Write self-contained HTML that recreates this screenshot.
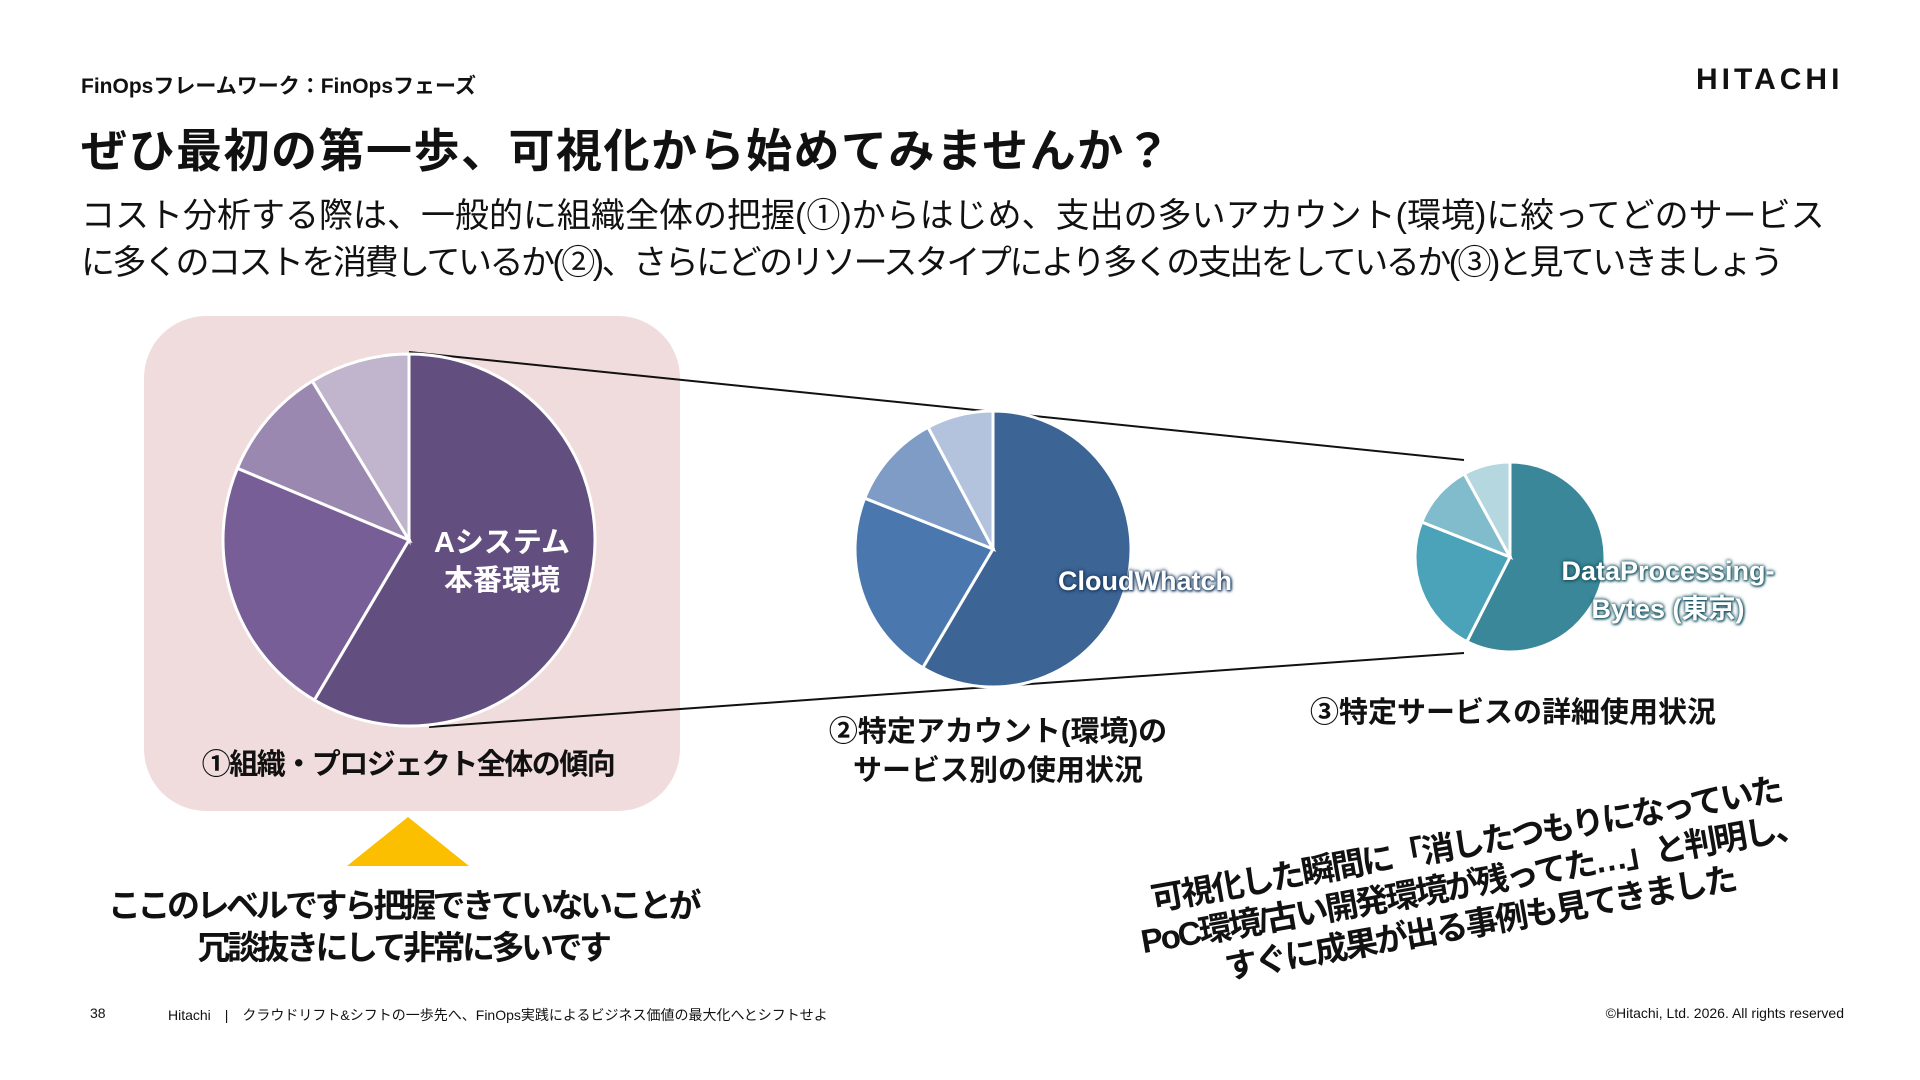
<!DOCTYPE html>
<html><head><meta charset="utf-8">
<style>
*{margin:0;padding:0;box-sizing:border-box}
body{width:1920px;height:1080px;background:#fff;position:relative;overflow:hidden;font-family:"Liberation Sans","Noto Sans CJK JP",sans-serif;color:#111}
.a{position:absolute;white-space:nowrap}
.c{transform:translateX(-50%);text-align:center}
.b{font-weight:bold}
</style></head><body>
<div class="a" style="left:81px;top:70px;font-size:21px;font-weight:bold">FinOpsフレームワーク：FinOpsフェーズ</div>
<div class="a" style="left:1696px;top:63px;font-size:30px;font-weight:900;letter-spacing:4px">HITACHI</div>
<div class="a b" style="left:81px;top:115px;font-size:46px;letter-spacing:1.5px">ぜひ最初の第一歩、可視化から始めてみませんか？</div>
<div class="a" style="left:81px;top:193px;font-size:34px;line-height:47px">コスト分析する際は、一般的に組織全体の把握(①)からはじめ、支出の多いアカウント(環境)に絞ってどのサービス</div>
<div class="a" style="left:81px;top:240px;font-size:34px;line-height:47px;letter-spacing:-2.5px">に多くのコストを消費しているか(②)、さらにどのリソースタイプにより多くの支出をしているか(③)と見ていきましょう</div>
<div class="a" style="left:144px;top:316px;width:536px;height:495px;background:#f0dcdc;border-radius:62px"></div>
<svg class="a" id="chart" style="left:0;top:0" width="1920" height="1080"></svg>
<div class="a b c" style="left:502px;top:524px;font-size:29px;line-height:38px;color:#fff">Aシステム<br>本番環境</div>
<div class="a b c" style="left:1145px;top:566px;font-size:27px;color:#fff;text-shadow:0 0 4px #1f3f66,0 0 3px #1f3f66,1px 1px 2px #1f3f66">CloudWhatch</div>
<div class="a b c" style="left:1668px;top:552px;font-size:27px;line-height:38px;color:#fff;text-shadow:0 0 4px #1d5866,0 0 3px #1d5866,1px 1px 2px #1d5866">DataProcessing-<br>Bytes (東京)</div>
<div class="a b c" style="left:408px;top:741px;font-size:29px;letter-spacing:-1.5px">①組織・プロジェクト全体の傾向</div>
<div class="a b c" style="left:998px;top:713px;font-size:29px;line-height:39px">②特定アカウント(環境)の<br>サービス別の使用状況</div>
<div class="a b c" style="left:1513px;top:689px;font-size:29px">③特定サービスの詳細使用状況</div>
<svg class="a" style="left:340px;top:812px" width="136" height="60"><polygon points="68,5 129,54 7,54" fill="#fbbf00"/></svg>
<div class="a b c" style="left:403px;top:885px;font-size:33px;line-height:42px;letter-spacing:-3.5px">ここのレベルですら把握できていないことが<br>冗談抜きにして非常に多いです</div>
<div class="a b c" style="left:1473px;top:824px;font-size:33px;line-height:40px;letter-spacing:-2.5px;transform:translateX(-50%) rotate(-10deg)">可視化した瞬間に「消したつもりになっていた<br>PoC環境/古い開発環境が残ってた…」と判明し、<br>すぐに成果が出る事例も見てきました</div>
<div class="a" style="left:90px;top:1005px;font-size:14px">38</div>
<div class="a" style="left:168px;top:1005px;font-size:14px">Hitachi　|　クラウドリフト&amp;シフトの一歩先へ、FinOps実践によるビジネス価値の最大化へとシフトせよ</div>
<div class="a" style="right:76px;top:1005px;font-size:14px">©Hitachi, Ltd. 2026. All rights reserved</div>
<script>
const pie1Values=[58.5,22.8,10,8.7];
const pie2Values=[58.5,22.5,11.2,7.8];
const pie3Values=[57.5,23.5,11,8];
const pie1Colors=['#634f7f','#775e96','#9b88b0','#c0b5cc'];
const pie2Colors=['#3c6494','#4a78ae','#7f9cc7','#b4c3dd'];
const pie3Colors=['#3a8799','#4aa3b8','#80bccc','#b5d7e0'];
const NS='http://www.w3.org/2000/svg';
const svg=document.getElementById('chart');
function line(x1,y1,x2,y2,name){const l=document.createElementNS(NS,'line');
l.setAttribute('x1',x1);l.setAttribute('y1',y1);l.setAttribute('x2',x2);l.setAttribute('y2',y2);
l.setAttribute('stroke','#111');l.setAttribute('stroke-width','2');


svg.appendChild(l);}
line(409,352,1464,460,'zoom-line-top');
line(429,727,1464,653,'zoom-line-bottom');
function pie(cx,cy,r,vals,cols,name){
  const tot=vals.reduce((a,b)=>a+b,0);let a0=0;
  vals.forEach((v,i)=>{const a1=a0+v/tot*2*Math.PI;
    const x0=cx+r*Math.sin(a0),y0=cy-r*Math.cos(a0),x1=cx+r*Math.sin(a1),y1=cy-r*Math.cos(a1);
    const p=document.createElementNS(NS,'path');
    p.setAttribute('d',`M${cx},${cy}L${x0},${y0}A${r},${r} 0 ${a1-a0>Math.PI?1:0} 1 ${x1},${y1}Z`);
    p.setAttribute('fill',cols[i]);p.setAttribute('stroke','#fff');p.setAttribute('stroke-width','3');
    
    
    svg.appendChild(p);a0=a1;});
}
pie(409,540,186,pie1Values,pie1Colors,'pie1');
pie(993,549,138,pie2Values,pie2Colors,'pie2');
pie(1510,557,95,pie3Values,pie3Colors,'pie3');
</script>
</body></html>
